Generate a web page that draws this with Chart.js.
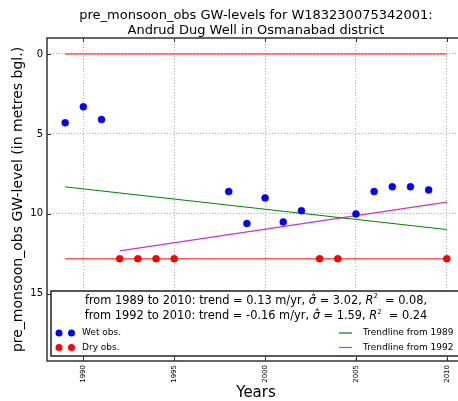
<!DOCTYPE html>
<html>
<head>
<meta charset="utf-8">
<script src="https://cdn.jsdelivr.net/npm/chart.js@4.4.1/dist/chart.umd.min.js"></script>
<style>
  html, body { margin: 0; padding: 0; background: #fff; overflow: hidden; }
  #wrap { position: relative; width: 470px; height: 401px; }
</style>
</head>
<body>
<div id="wrap"><canvas id="gwChart"></canvas></div>
<script>
const wetYears = [1989, 1990, 1991, 1998, 1999, 2000, 2001, 2002, 2005, 2006, 2007, 2008, 2009];
const wetLevels = [4.3, 3.3, 4.1, 8.6, 10.6, 9.0, 10.5, 9.8, 10.0, 8.6, 8.3, 8.3, 8.5];
const dryYears = [1992, 1993, 1994, 1995, 2003, 2004, 2010];
const dryLevels = [12.8, 12.8, 12.8, 12.8, 12.8, 12.8, 12.8];
const limitYears = [1989, 2010];
const groundLevels = [0, 0];
const bottomLevels = [12.8, 12.8];
const trend1989Years = [1989, 2010];
const trend1989Levels = [8.31, 10.98];
const trend1992Years = [1992, 2010];
const trend1992Levels = [12.31, 9.27];
const xTicks = [1990, 1995, 2000, 2005, 2010];
const yTicks = [0, 5, 10, 15];
// stats printed in the box
const statFrom = [1989, 1992];
const statTo = [2010, 2010];
const statTrend = ['0.13', '-0.16'];
const statSigma = ['3.02', '1.59'];
const statR2 = ['0.08', '0.24'];
const statTail = [',', ''];

const FONT = '"DejaVu Sans", sans-serif';

function pts(xs, ys) { return xs.map((x, i) => ({ x: x, y: ys[i] })); }

function drawRich(ctx, segs, cx, y, size) {
    const fontOf = s => (s.it ? 'italic ' : '') + (s.sup ? size * 0.6 : size) + 'px ' + FONT;
    let w = 0;
    segs.forEach(s => { ctx.font = fontOf(s); w += ctx.measureText(s.t).width; });
    let x = cx - w / 2;
    segs.forEach(s => {
        ctx.font = fontOf(s);
        ctx.fillText(s.t, x, s.sup ? y - size * 0.4 : y);
        x += ctx.measureText(s.t).width;
    });
}

const frameAndBox = {
    id: 'frameAndBox',
    afterDatasetsDraw(chart) {
        const ctx = chart.ctx, a = chart.chartArea;
        const xs = chart.scales.x, ys = chart.scales.y;
        ctx.save();
        ctx.strokeStyle = '#333';
        ctx.lineWidth = 1.5;
        ctx.strokeRect(a.left, a.top, a.right - a.left, a.bottom - a.top);
        ctx.lineWidth = 1;
        ctx.beginPath();
        xTicks.forEach(v => {
            const px = Math.round(xs.getPixelForValue(v)) + 0.5;
            ctx.moveTo(px, a.bottom); ctx.lineTo(px, a.bottom - 4);
            ctx.moveTo(px, a.top); ctx.lineTo(px, a.top + 4);
        });
        yTicks.forEach(v => {
            const py = Math.round(ys.getPixelForValue(v)) + 0.5;
            ctx.moveTo(a.left, py); ctx.lineTo(a.left + 4, py);
        });
        ctx.stroke();
        ctx.restore();
    },
    afterDraw(chart) {
        const ctx = chart.ctx, a = chart.chartArea;
        const l = a.left + 4, t = 291, r = a.right - 4, b = a.bottom - 5;
        ctx.save();
        ctx.fillStyle = '#fff';
        ctx.fillRect(l, t, r - l, b - t);
        ctx.strokeStyle = '#222';
        ctx.lineWidth = 1.5;
        ctx.strokeRect(l, t, r - l, b - t);

        ctx.fillStyle = '#000';
        ctx.textBaseline = 'middle';
        ctx.textAlign = 'left';
        const cx = (a.left + a.right) / 2;
        statFrom.forEach((f, i) => {
            drawRich(ctx, [
                { t: 'from ' + f + ' to ' + statTo[i] + ': trend = ' + statTrend[i] + ' m/yr, ' },
                { t: 'σ\u0302', it: true },
                { t: ' = ' + statSigma[i] + ', ' },
                { t: 'R', it: true },
                { t: '2', sup: true },
                { t: '  = ' + statR2[i] + statTail[i] }
            ], cx, 301 + i * 15.5, 11.4);
        });

        // legend rows
        const rowY = [333, 347.5];
        const markColors = ['#0000ff', '#ff0000'];
        const markLabels = ['Wet obs.', 'Dry obs.'];
        const lineColors = ['#008000', '#cc33cc'];
        const lineLabels = ['Trendline from 1989', 'Trendline from 1992'];
        ctx.font = '9px ' + FONT;
        rowY.forEach((y, i) => {
            ctx.fillStyle = markColors[i];
            [l + 8, l + 20.5].forEach(x => {
                ctx.beginPath(); ctx.arc(x, y, 3.5, 0, Math.PI * 2); ctx.fill();
            });
            ctx.fillStyle = '#000';
            ctx.fillText(markLabels[i], l + 31, y);
            ctx.strokeStyle = lineColors[i];
            ctx.lineWidth = 1.2;
            ctx.beginPath(); ctx.moveTo(339, y); ctx.lineTo(352, y); ctx.stroke();
            ctx.fillText(lineLabels[i], 363, y);
        });
        ctx.restore();
    }
};

const axisGrid = { color: '#999', lineWidth: 0.8, drawTicks: false };

new Chart(document.getElementById('gwChart'), {
    type: 'scatter',
    data: {
        datasets: [
            { label: 'Wet obs.', data: pts(wetYears, wetLevels), backgroundColor: '#0000ff', borderColor: '#0000cc',
              borderWidth: 0.5, pointRadius: 3.5, order: 0 },
            { label: 'Dry obs.', data: pts(dryYears, dryLevels), backgroundColor: '#ff0000', borderColor: '#cc0000',
              borderWidth: 0.5, pointRadius: 3.5, order: 0 },
            { label: 'Ground', data: pts(limitYears, groundLevels), showLine: true, borderColor: 'rgba(255,0,0,0.65)',
              borderWidth: 1.5, pointRadius: 0, order: 2 },
            { label: 'Well bottom', data: pts(limitYears, bottomLevels), showLine: true, borderColor: 'rgba(255,0,0,0.65)',
              borderWidth: 1.5, pointRadius: 0, order: 2 },
            { label: 'Trendline from 1989', data: pts(trend1989Years, trend1989Levels), showLine: true, borderColor: '#008000',
              borderWidth: 1, pointRadius: 0, order: 1 },
            { label: 'Trendline from 1992', data: pts(trend1992Years, trend1992Levels), showLine: true, borderColor: '#cc33cc',
              borderWidth: 1.2, pointRadius: 0, order: 1 }
        ]
    },
    options: {
        responsive: true,
        maintainAspectRatio: false,
        animation: false,
        layout: { padding: { left: 0, right: 5, top: 0, bottom: 0 } },
        plugins: {
            legend: { display: false },
            tooltip: { enabled: false },
            title: {
                display: true,
                fullSize: false,
                text: ['pre_monsoon_obs GW-levels for W183230075342001:', 'Andrud Dug Well in Osmanabad district'],
                color: '#000',
                font: { family: FONT, size: 13, weight: 'normal', lineHeight: 1.15 },
                padding: { top: 8, bottom: 0.1 }
            }
        },
        scales: {
            x: {
                type: 'linear', min: 1988, max: 2011,
                afterBuildTicks: s => { s.ticks = xTicks.map(v => ({ value: v })); },
                afterFit: s => { s.height = 40; },
                ticks: { font: { family: FONT, size: 7 }, color: '#000', minRotation: 90, maxRotation: 90,
                         padding: 4, autoSkip: false, callback: v => String(v) },
                grid: axisGrid,
                border: { display: false, dash: [1, 2] },
                title: { display: true, text: 'Years', color: '#000',
                         font: { family: FONT, size: 15, lineHeight: 1 }, padding: { top: 0, bottom: 0 } }
            },
            y: {
                type: 'linear', reverse: true, min: -1, max: 19.2,
                afterBuildTicks: s => { s.ticks = yTicks.map(v => ({ value: v })); },
                afterFit: s => { s.width = 47; },
                ticks: { font: { family: FONT, size: 10 }, color: '#000', padding: 4, callback: v => String(v) },
                grid: axisGrid,
                border: { display: false, dash: [1, 2] },
                title: { display: true, text: 'pre_monsoon_obs GW-level (in metres bgl.)', color: '#000',
                         font: { family: FONT, size: 14, lineHeight: 1.2 }, padding: { top: 10, bottom: 0 } }
            }
        }
    },
    plugins: [frameAndBox]
});
</script>
</body>
</html>
